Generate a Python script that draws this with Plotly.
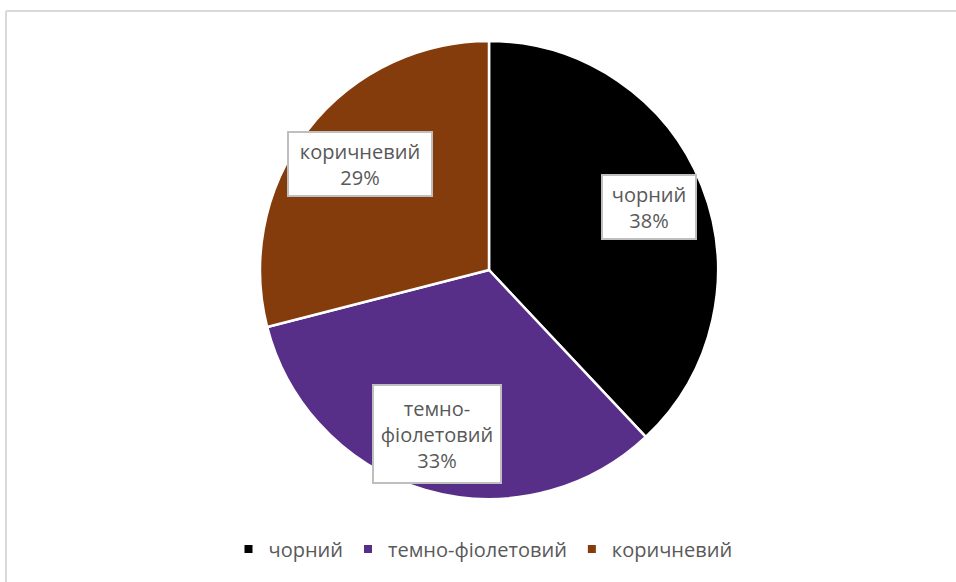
import plotly.graph_objects as go

# Colour shares of the sample
categories = ["чорний", "темно-фіолетовий", "коричневий"]
values = [38, 33, 29]
box_labels = ["чорний", "темно-<br>фіолетовий", "коричневий"]
colors = ["#000000", "#582F88", "#843C0C"]

W, H = 956, 582
TEXT = "#595959"
FONT = "Open Sans"


def px(x):
    return x / W


def py(y):
    return 1 - y / H


# pie placement (pixels)
cx, top, bottom = 489, 41, 499
half = 0.30

fig = go.Figure()
fig.add_trace(go.Pie(
    labels=categories,
    values=values,
    sort=False,
    direction="clockwise",
    rotation=0,
    textinfo="none",
    hoverinfo="label+percent",
    marker=dict(colors=colors, line=dict(color="white", width=2.5)),
    domain=dict(x=[px(cx) - half, px(cx) + half], y=[py(bottom), py(top)]),
    showlegend=False,
))

# legend entries with small square keys
for name, col in zip(categories, colors):
    fig.add_trace(go.Scatter(
        x=[None], y=[None], mode="markers", name=name,
        marker=dict(symbol="square", size=8, color=col),
    ))

# callout boxes: centre (px) and size (px)
total = sum(values)
box_geom = [((649, 207), (96, 66)), ((437, 434), (130, 100)), ((360, 164), (146, 66))]
annotations = []
for lab, v, ((bx, by), (bw, bh)) in zip(box_labels, values, box_geom):
    annotations.append(dict(
        x=px(bx), y=py(by), xref="paper", yref="paper",
        xanchor="center", yanchor="middle",
        text=f"{lab}<br>{round(100 * v / total)}%",
        showarrow=False, align="center",
        width=bw - 4, height=bh - 4,
        bgcolor="white", bordercolor="#BFBFBF", borderwidth=2, borderpad=0,
        font=dict(family=FONT, size=20, color=TEXT),
    ))

# outer chart frame (top and left edges visible)
shapes = [
    dict(type="line", xref="paper", yref="paper", x0=px(6), x1=1, y0=py(11), y1=py(11),
         line=dict(color="#D9D9D9", width=2)),
    dict(type="line", xref="paper", yref="paper", x0=px(6), x1=px(6), y0=py(11), y1=0,
         line=dict(color="#D9D9D9", width=2)),
]

fig.update_layout(
    width=W, height=H,
    margin=dict(l=0, r=0, t=0, b=0),
    paper_bgcolor="white", plot_bgcolor="white",
    xaxis=dict(visible=False), yaxis=dict(visible=False),
    annotations=annotations,
    shapes=shapes,
    legend=dict(
        orientation="h", x=px(483), xanchor="center", y=py(549), yanchor="middle",
        font=dict(family=FONT, size=20, color=TEXT),
        itemclick=False, itemdoubleclick=False,
    ),
)

fig.write_html("out.html")
